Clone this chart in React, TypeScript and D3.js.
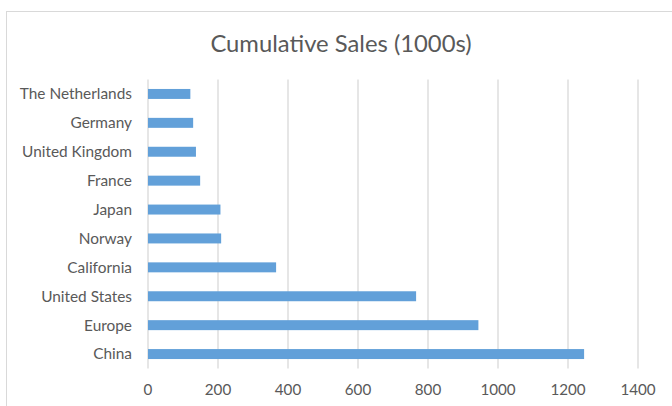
import React from "react";
import * as d3 from "d3";

const categories = ["The Netherlands", "Germany", "United Kingdom", "France", "Japan", "Norway", "California", "United States", "Europe", "China"];
const values = [121, 129, 137, 149, 207, 209, 366, 766, 944, 1246];
const xTicks = [0, 200, 400, 600, 800, 1000, 1200, 1400];
const title = "Cumulative Sales (1000s)";

export default function App() {
  const W = 672, H = 406;
  const left = 148, right = 638, top = 79.5, bottom = 368.5;
  const x = d3.scaleLinear().domain([0, 1400]).range([left, right]);
  const y = d3.scaleBand().domain(categories).range([top, bottom]).paddingInner(0.655).paddingOuter(0.3275);
  const font = "Lato, 'Liberation Sans', sans-serif";
  const textColor = "#595959";
  const grid = "#d9d9d9";
  return (
    <svg width={W} height={H} style={{ position: "absolute", left: 0, top: 0, background: "#fff" }} fontFamily={font}>
      <rect x={6.5} y={11.5} width={720} height={440} fill="#fff" stroke={grid} strokeWidth={1} />
      <text x={341} y={52} textAnchor="middle" fontSize={23.8} fill={textColor}>{title}</text>
      {xTicks.map((t) => (
        <g key={t}>
          <line x1={x(t)} x2={x(t)} y1={top} y2={bottom} stroke={grid} strokeWidth={1.3} />
          <text x={x(t)} y={395} textAnchor="middle" fontSize={15.2} fill={textColor}>{t}</text>
        </g>
      ))}
      {categories.map((c, i) => (
        <g key={c}>
          <rect x={x(0)} y={y(c)!} width={x(values[i]) - x(0)} height={y.bandwidth()} fill="#62a0d9" />
          <text x={132} y={y(c)! + y.bandwidth() / 2} dy="0.35em" textAnchor="end" fontSize={15.4} fill={textColor}>{c}</text>
        </g>
      ))}
    </svg>
  );
}
